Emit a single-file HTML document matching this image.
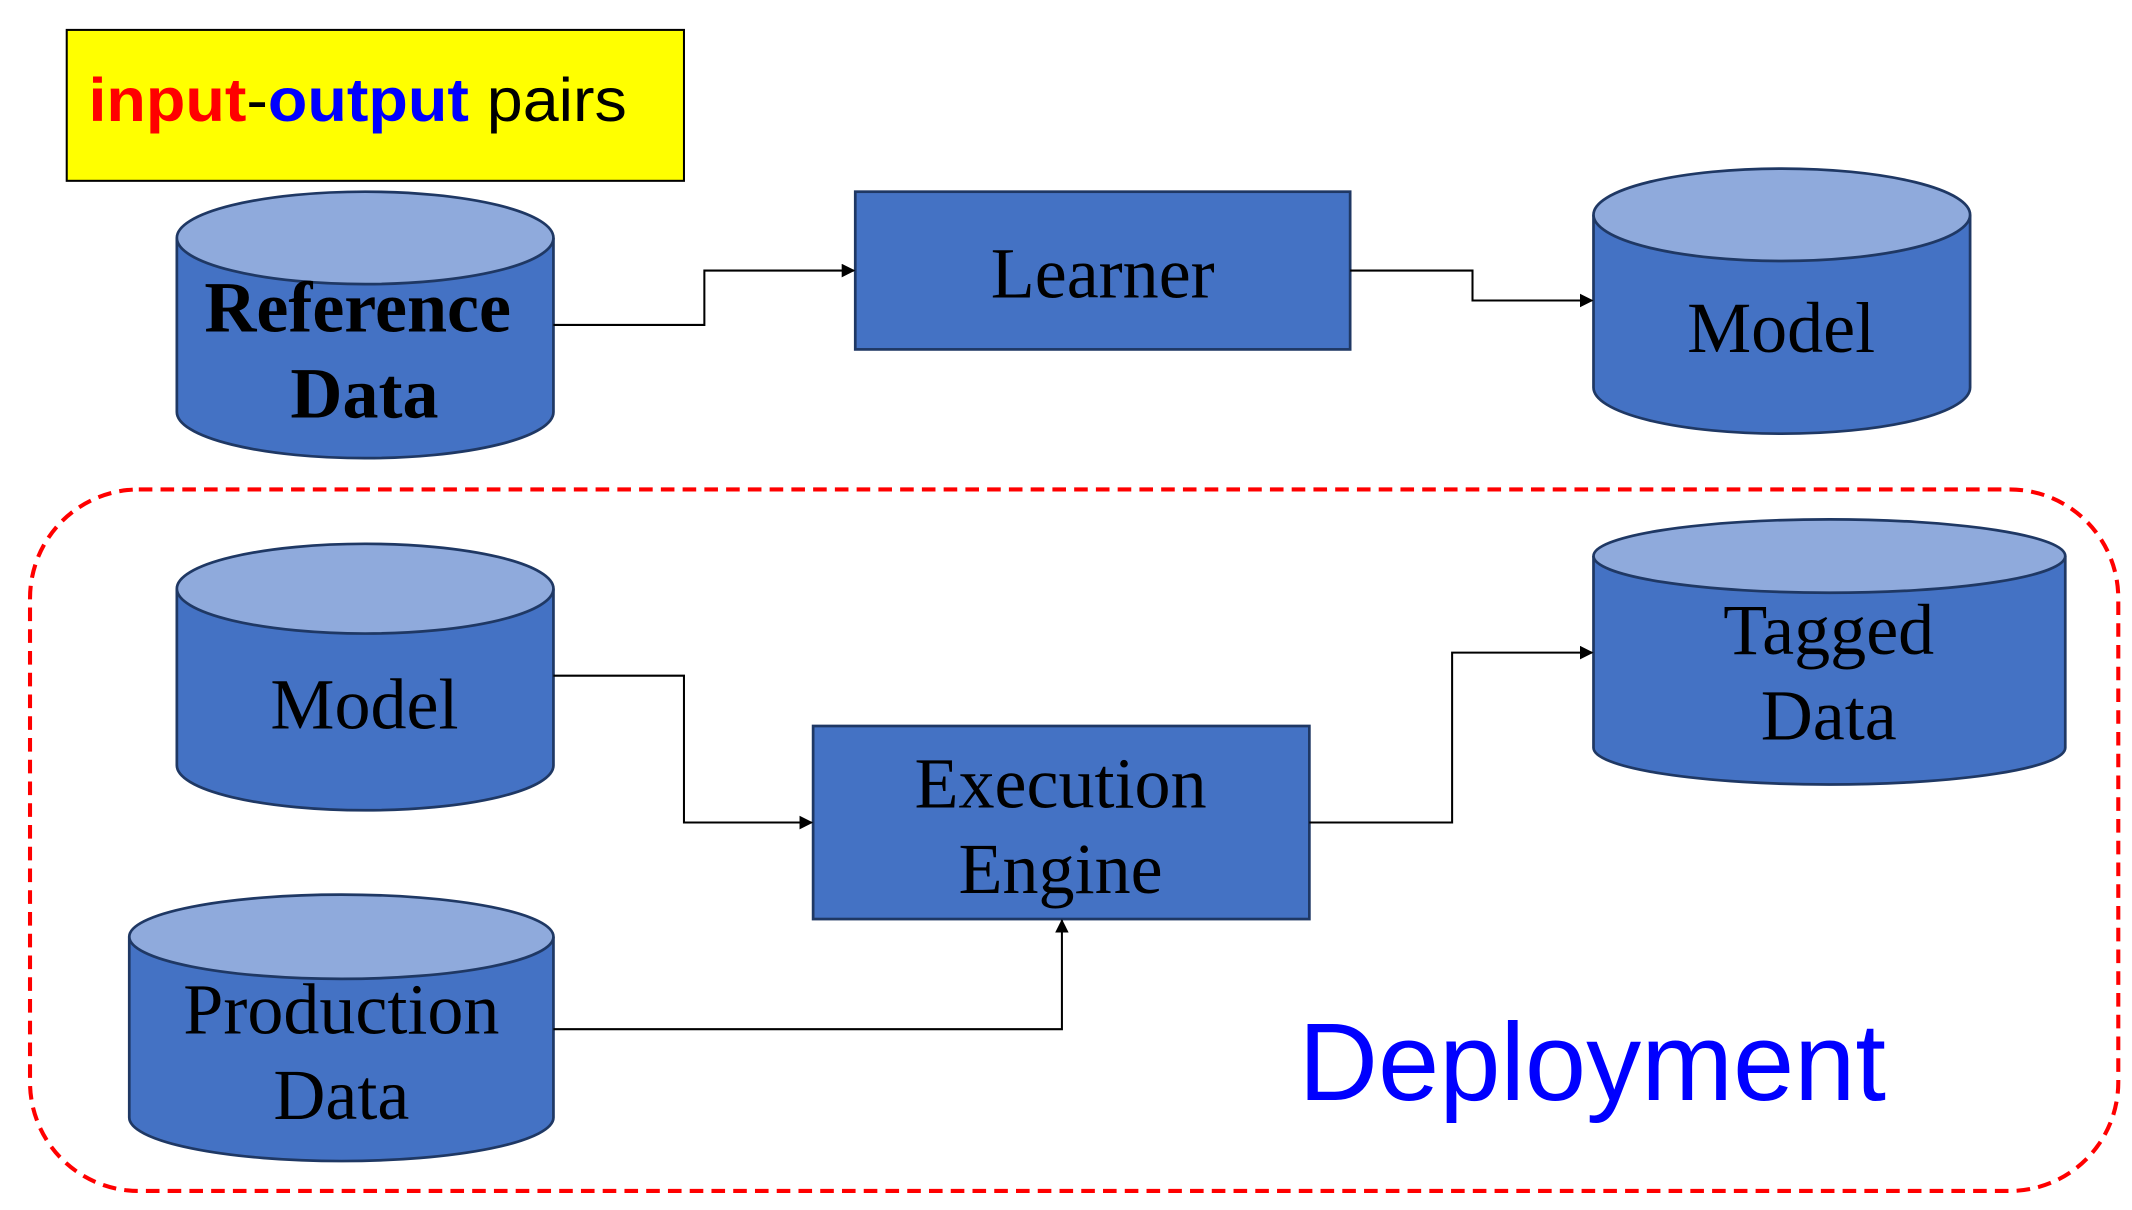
<!DOCTYPE html>
<html><head><meta charset="utf-8"><style>html,body{margin:0;padding:0;background:#fff}svg{display:block}</style></head>
<body>
<svg width="2132" height="1210" viewBox="0 0 1568 890" xmlns="http://www.w3.org/2000/svg">
<defs><marker id="a" markerWidth="10" markerHeight="10" refX="9" refY="5" orient="auto" markerUnits="userSpaceOnUse"><path d="M0,0 L10,5 L0,10 z" fill="#000"/></marker></defs>
<rect width="1568" height="890" fill="#fff"/>
<rect x="49" y="22" width="454" height="111" fill="#ffff00" stroke="#000" stroke-width="1.5"/>
<text x="65" y="89" font-family="Liberation Sans, sans-serif" font-size="45" textLength="396" lengthAdjust="spacingAndGlyphs"><tspan fill="#ff0000" font-weight="bold">input</tspan><tspan fill="#000">-</tspan><tspan fill="#0000ff" font-weight="bold">output</tspan><tspan fill="#000"> pairs</tspan></text>
<g stroke="#1f3864" stroke-width="2">
<path d="M130,175 L130,303 A138.5,34 0 0 0 407,303 L407,175" fill="#4472C4"/>
<ellipse cx="268.5" cy="175" rx="138.5" ry="34" fill="#8FAADC"/>
<path d="M1172,158 L1172,285 A138.5,34 0 0 0 1449,285 L1449,158" fill="#4472C4"/>
<ellipse cx="1310.5" cy="158" rx="138.5" ry="34" fill="#8FAADC"/>
<path d="M130,433 L130,563 A138.5,33 0 0 0 407,563 L407,433" fill="#4472C4"/>
<ellipse cx="268.5" cy="433" rx="138.5" ry="33" fill="#8FAADC"/>
<path d="M95,689 L95,822 A156,32 0 0 0 407,822 L407,689" fill="#4472C4"/>
<ellipse cx="251" cy="689" rx="156" ry="31" fill="#8FAADC"/>
<path d="M1172,409 L1172,550 A173.5,27 0 0 0 1519,550 L1519,409" fill="#4472C4"/>
<ellipse cx="1345.5" cy="409" rx="173.5" ry="27" fill="#8FAADC"/>
<rect x="629" y="141" width="364" height="116" fill="#4472C4"/>
<rect x="598" y="534" width="365" height="142" fill="#4472C4"/>
</g>
<rect x="22" y="360" width="1536" height="516" rx="80" fill="none" stroke="#ff0000" stroke-width="3" stroke-dasharray="10,6"/>
<g fill="none" stroke="#000" stroke-width="1.5">
<polyline points="407,239 518,239 518,199 628,199" marker-end="url(#a)"/>
<polyline points="993,199 1083,199 1083,221 1171,221" marker-end="url(#a)"/>
<polyline points="407,497 503,497 503,605 597,605" marker-end="url(#a)"/>
<polyline points="963,605 1068,605 1068,480 1171,480" marker-end="url(#a)"/>
<polyline points="407,757 781,757 781,677" marker-end="url(#a)"/>
</g>
<g font-family="Liberation Serif, serif" font-size="53" fill="#000" text-anchor="middle">
<text x="263" y="244" font-weight="bold">Reference</text>
<text x="268" y="307" font-weight="bold">Data</text>
<text x="811" y="219">Learner</text>
<text x="1310" y="259">Model</text>
<text x="268" y="536">Model</text>
<text x="251" y="760">Production</text>
<text x="251" y="823">Data</text>
<text x="780" y="594">Execution</text>
<text x="780" y="657">Engine</text>
<text x="1345" y="481">Tagged</text>
<text x="1345" y="544">Data</text>
</g>
<text x="955" y="809" font-family="Liberation Sans, sans-serif" font-size="81" fill="#0000ff">Deployment</text>
</svg>
</body></html>
